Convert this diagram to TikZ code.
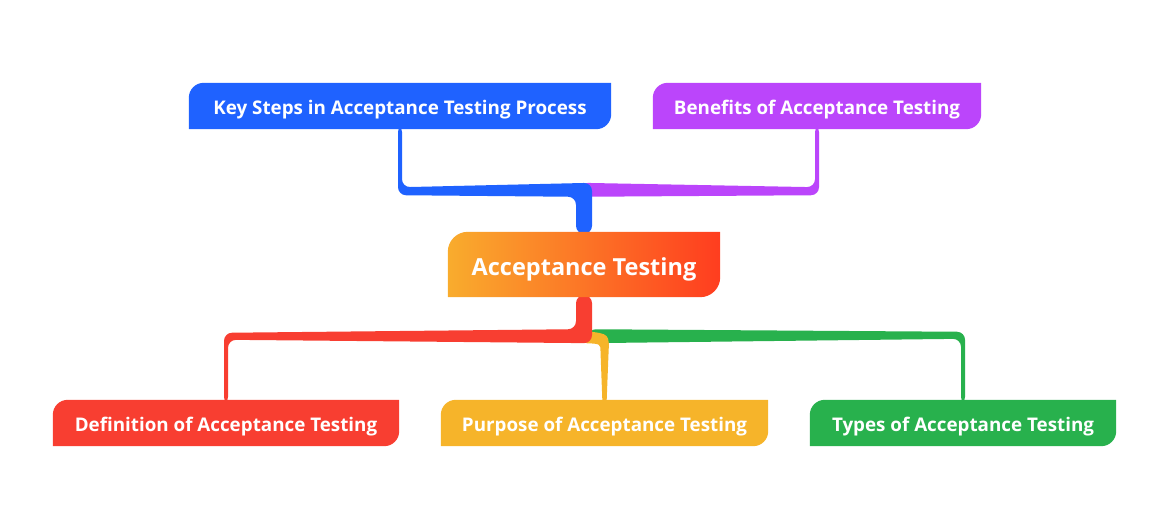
\documentclass[tikz,border=0pt]{standalone}
\usepackage{fontspec}
\newfontfamily\mapfont{Open Sans}
\usetikzlibrary{calc,backgrounds}
\definecolor{keyblue}{HTML}{1F62FF}
\definecolor{benpurple}{HTML}{BB45FB}
\definecolor{defred}{HTML}{F83E31}
\definecolor{puryellow}{HTML}{F6B42A}
\definecolor{typgreen}{HTML}{28B14D}
\definecolor{ctrleft}{HTML}{F9AC2D}
\definecolor{ctrright}{HTML}{FF3D1F}
\begin{document}
\begin{tikzpicture}[x=1pt,y=1pt,
    topicbox/.style={text=white,inner sep=0pt,minimum height=65pt,text height=22pt,text depth=0pt,
      font=\mapfont\bfseries\fontsize{23.5}{28}\selectfont},
    subbox/.style={text=white,inner sep=0pt,minimum height=46pt,text height=18pt,text depth=0pt,
      font=\mapfont\bfseries\fontsize{18.8}{22}\selectfont}]
  \useasboundingbox (0,0) rectangle (1169,530);

  \node[topicbox,minimum width=272pt] (ctr) at (584,265.5) {Acceptance Testing};
  \node[subbox,minimum width=422pt] (key) at (400,424) {Key Steps in Acceptance Testing Process};
  \node[subbox,minimum width=328pt] (ben) at (817,424) {Benefits of Acceptance Testing};
  \node[subbox,minimum width=346pt] (def) at (226,107) {Definition of Acceptance Testing};
  \node[subbox,minimum width=327pt] (pur) at (604.5,107) {Purpose of Acceptance Testing};
  \node[subbox,minimum width=306pt] (typ) at (963,107) {Types of Acceptance Testing};

  \begin{scope}[on background layer]
    % branches, thick at the centre and thin at the topics
    \fill[benpurple,rounded corners=8pt] ($(ctr.north)+(-4,49)$) -- ($(ben.south)+(-2,-58)$)
      -- ($(ben.south)+(-2,5)$) -- ($(ben.south)+(2,5)$) -- ($(ben.south)+(2,-66)$)
      -- ($(ctr.north)+(-4,35)$) -- cycle;
    \fill[keyblue,rounded corners=8pt] ($(ctr.north)+(8,-2)$) -- ($(ctr.north)+(8,49)$)
      -- ($(key.south)+(2,-58)$) -- ($(key.south)+(2,5)$) -- ($(key.south)+(-2,5)$)
      -- ($(key.south)+(-2,-66)$) -- ($(ctr.north)+(-8,35)$) -- ($(ctr.north)+(-8,-2)$) -- cycle;
    \fill[typgreen,rounded corners=8pt] ($(ctr.south)+(4,-32)$) -- ($(typ.north)+(2,68)$)
      -- ($(typ.north)+(2,-5)$) -- ($(typ.north)+(-2,-5)$) -- ($(typ.north)+(-2,61)$)
      -- ($(ctr.south)+(4,-46)$) -- cycle;
    \fill[puryellow] ($(ctr.south)+(2,-34)$) .. controls ($(pur.north)+(5,66)$) .. ($(pur.north)+(4,46)$)
      -- ($(pur.north)+(2,-5)$) -- ($(pur.north)+(-2,-5)$) -- ($(pur.north)+(-4,48)$)
      .. controls ($(pur.north)+(-4,56)$) .. ($(ctr.south)+(2,-46)$) -- cycle;
    \fill[defred,rounded corners=8pt] ($(ctr.south)+(8,2)$) -- ($(ctr.south)+(8,-46)$)
      -- ($(def.north)+(2,60)$) -- ($(def.north)+(2,-5)$) -- ($(def.north)+(-2,-5)$)
      -- ($(def.north)+(-2,67)$) -- ($(ctr.south)+(-8,-32)$) -- ($(ctr.south)+(-8,2)$) -- cycle;

    % boxes, rounded at top left and bottom right
    \shade[left color=ctrleft,right color=ctrright] (ctr.south west)
      -- ([yshift=-20pt]ctr.north west) arc[start angle=180,end angle=90,radius=20pt]
      -- (ctr.north east) -- ([yshift=20pt]ctr.south east) arc[start angle=0,end angle=-90,radius=20pt] -- cycle;
    \foreach \n/\c in {key/keyblue,ben/benpurple,def/defred,pur/puryellow,typ/typgreen}
      \fill[\c] (\n.south west) -- ([yshift=-15pt]\n.north west) arc[start angle=180,end angle=90,radius=15pt]
        -- (\n.north east) -- ([yshift=15pt]\n.south east) arc[start angle=0,end angle=-90,radius=15pt] -- cycle;
  \end{scope}
\end{tikzpicture}
\end{document}
